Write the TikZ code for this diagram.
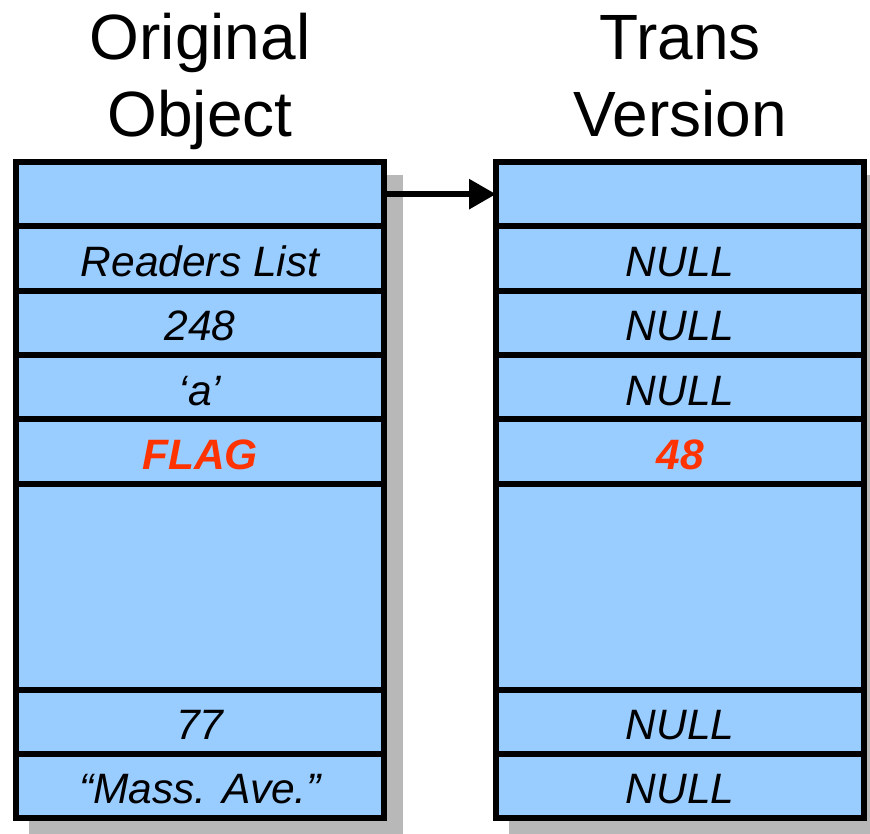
\documentclass[tikz,border=0pt]{standalone}
\usepackage{fontspec}
\setmainfont{Liberation Sans}
\usetikzlibrary{arrows.meta}
\definecolor{cellblue}{HTML}{99CCFF}
\definecolor{flagred}{HTML}{FF3300}
\definecolor{shadowgray}{HTML}{B8B8B8}
\tikzset{
  cell/.style={draw=black, line width=6pt, fill=cellblue, minimum width=368pt,
    minimum height=64.3pt, inner sep=0pt, outer sep=0pt, text height=36pt,
    text depth=0pt, font=\fontsize{42.5}{48}\selectfont\itshape},
  bigcell/.style={cell, minimum height=206pt},
  flag/.style={text=flagred, font=\fontsize{42.5}{48}\selectfont\bfseries\itshape},
  title/.style={font=\fontsize{64}{77}\selectfont, anchor=base, inner sep=0pt}
}
\begin{document}
\begin{tikzpicture}[x=1pt,y=-1pt]
\useasboundingbox (0,0) rectangle (870,833);

% Titles
\node[title] (orig) at (200,59) {Original};
\node[title] (obj) at (200,136) {Object};
\node[title] (trans) at (680,59) {Trans};
\node[title] (vers) at (680,136) {Version};

% Shadows
\fill[shadowgray] (29,175) rectangle (403,840);
\fill[shadowgray] (509,175) rectangle (883,840);

% Original object
\node[cell] (o1) at (200,194.15) {};
\node[cell] (o2) at (200,258.45) {Readers List};
\node[cell] (o3) at (200,322.75) {248};
\node[cell] (o4) at (200,387.05) {`a'};
\node[cell,flag] (o5) at (200,451.35) {FLAG};
\node[bigcell] (o6) at (200,586.5) {};
\node[cell] (o7) at (200,721.65) {77};
\node[cell] (o8) at (200,785.95) {``Mass. Ave.''};

% Trans version
\node[cell] (t1) at (680,194.15) {};
\node[cell] (t2) at (680,258.45) {NULL};
\node[cell] (t3) at (680,322.75) {NULL};
\node[cell] (t4) at (680,387.05) {NULL};
\node[cell,flag] (t5) at (680,451.35) {48};
\node[bigcell] (t6) at (680,586.5) {};
\node[cell] (t7) at (680,721.65) {NULL};
\node[cell] (t8) at (680,785.95) {NULL};

% Pointer
\draw[line width=6pt,-{Triangle[length=27pt,width=29pt]}] (o1.east) -- (t1.west);
\end{tikzpicture}
\end{document}
